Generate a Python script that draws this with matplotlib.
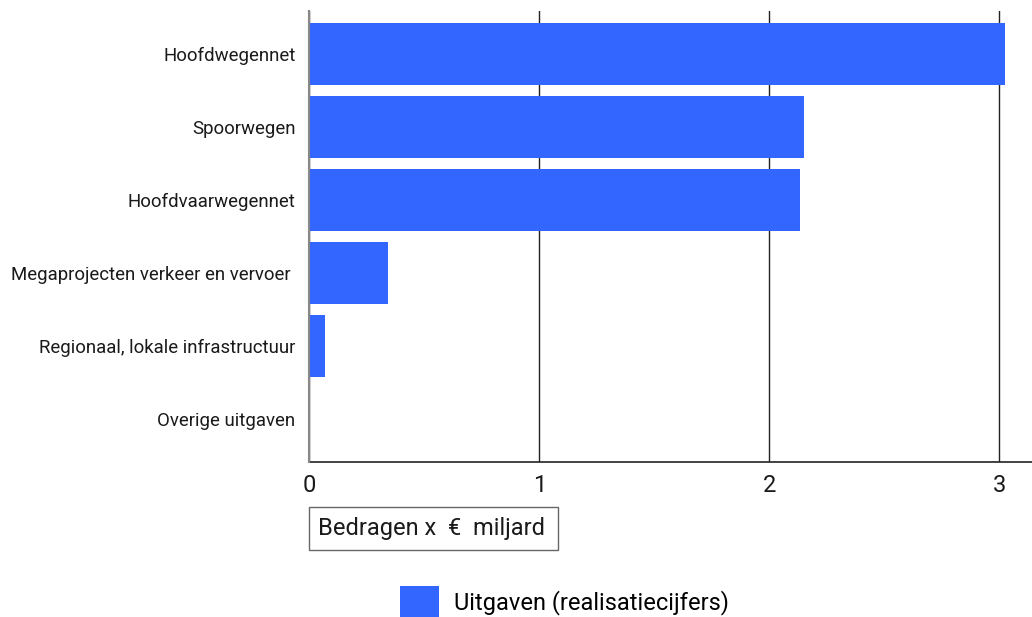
import matplotlib.pyplot as plt
from matplotlib.patches import Patch, Rectangle

plt.rcParams['font.family'] = ['Roboto', 'DejaVu Sans']

# Uitgaven (realisatiecijfers), bedragen x € miljard
categories = [
    "Hoofdwegennet",
    "Spoorwegen",
    "Hoofdvaarwegennet",
    "Megaprojecten verkeer en vervoer ",
    "Regionaal, lokale infrastructuur",
    "Overige uitgaven",
]
uitgaven = [3.026, 2.151, 2.132, 0.342, 0.07, 0.0]
x_ticks = [0, 1, 2, 3]

bar_color = "#3366FF"
text_color = "#1a1a1a"

W, H = 1032, 617
fig = plt.figure(figsize=(W / 100, H / 100), dpi=100, facecolor="white")
ax = fig.add_axes([309.3 / W, 1 - 462 / H, 1 - 309.3 / W, (462 - 11) / H])

ax.barh(range(len(categories)), uitgaven, height=0.85, color=bar_color,
        zorder=3, label="Uitgaven (realisatiecijfers)")

ax.set_xlim(0, 3.142)
ax.set_ylim(len(categories) - 1 + 0.59, -0.59)
ax.set_xticks(x_ticks)
ax.set_xticklabels([str(t) for t in x_ticks])
ax.set_yticks(range(len(categories)))
ax.set_yticklabels(categories)

ax.grid(axis="x", color="#222222", linewidth=1, zorder=1)
ax.grid(axis="y", visible=False)
ax.tick_params(axis="x", length=0, pad=9, labelsize=17, labelcolor=text_color)
ax.tick_params(axis="y", length=0, pad=10, labelsize=13.4, labelcolor=text_color)
for lbl in ax.get_xticklabels():
    lbl.set_x(lbl.get_position()[0])

for s in ("top", "right"):
    ax.spines[s].set_visible(False)
ax.spines["left"].set_color("#888888")
ax.spines["left"].set_linewidth(1.5)
ax.spines["left"].set_zorder(4)
ax.spines["bottom"].set_color("#222222")
ax.spines["bottom"].set_linewidth(1.2)

# axis title box
fig.patches.append(Rectangle((308.7 / W, 1 - 550 / H), (558 - 308.7) / W, (550 - 506.7) / H,
                             transform=fig.transFigure, facecolor="white",
                             edgecolor="#666666", linewidth=1))
fig.text(318 / W, 1 - 528.5 / H, "Bedragen x  €  miljard", ha="left", va="center",
         fontsize=17, color=text_color)

handles = [Patch(facecolor=bar_color, label="Uitgaven (realisatiecijfers)")]
fig.legend(handles=handles, loc="center left", bbox_to_anchor=(400 / W, 1 - 602 / H),
           frameon=False, fontsize=17, borderpad=0, borderaxespad=0,
           handlelength=1.65, handleheight=1.65, handletextpad=0.65)

fig.savefig("out.png", dpi=100, facecolor="white")
